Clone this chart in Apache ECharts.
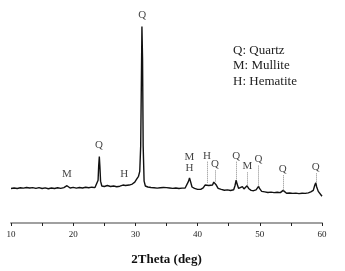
<!DOCTYPE html>
<html><head><meta charset="utf-8">
<script src="https://cdn.jsdelivr.net/npm/echarts@6/dist/echarts.min.js"></script>
<style>html,body{margin:0;padding:0;background:#fff}#c{width:345px;height:271px}</style>
</head><body><div id="c"></div>
<script>
// XRD pattern: 2Theta (deg) and intensity (arbitrary counts)
var twoTheta = [10.0,10.5,11.0,11.5,12.0,12.5,13.0,13.5,14.0,14.5,15.0,15.5,16.0,16.5,17.0,17.5,18.0,18.5,18.8,19.0,19.2,19.5,20.0,20.5,21.0,21.5,22.0,22.5,23.0,23.5,23.8,24.0,24.1,24.2,24.3,24.4,24.6,25.0,25.5,26.0,26.5,27.0,27.5,28.0,28.2,28.4,28.7,29.0,29.5,29.9,30.2,30.5,30.7,30.85,30.95,31.05,31.15,31.25,31.4,31.6,32.0,32.5,33.0,33.5,34.0,34.5,34.7,35.0,35.5,36.0,36.5,37.0,37.5,38.0,38.3,38.55,38.7,38.85,39.1,39.5,40.0,40.5,40.9,41.2,41.5,41.8,42.1,42.4,42.6,42.8,43.0,43.3,43.8,44.3,44.8,45.3,45.8,46.0,46.2,46.35,46.6,46.9,47.2,47.45,47.7,47.95,48.2,48.6,49.0,49.4,49.65,49.8,49.95,50.3,50.8,51.3,51.8,52.3,52.8,53.3,53.6,53.75,53.9,54.3,54.8,55.3,55.8,56.3,56.8,57.3,57.8,58.2,58.6,58.85,59.0,59.15,59.4,59.7,60.0];
var intensity = [355,360,355,362,358,365,360,364,356,363,354,361,352,360,354,362,356,364,375,383,372,360,366,358,365,360,367,362,368,364,370,440,590,683,570,430,380,375,385,375,380,372,378,390,407,385,382,390,400,420,450,480,530,790,1390,2020,1690,790,430,380,370,365,362,358,362,365,375,364,360,356,360,354,358,360,380,430,463,430,370,355,345,345,360,390,407,385,372,390,420,423,390,355,345,337,340,334,342,380,440,400,355,350,373,350,360,383,355,335,332,340,360,377,355,325,320,314,317,312,316,312,320,335,315,305,308,304,307,302,306,304,310,320,335,390,413,370,325,305,275];

// Phase labels: text, 2Theta, label height (counts)
var peakLabels = ['M','Q','H','Q','M','H','H','Q','Q','M','Q','Q','Q'];
var peakLabelX = [19.0,24.15,28.2,31.1,38.7,38.7,41.5,42.8,46.2,48.0,49.8,53.7,59.0];
var peakLabelY = [507,797,507,2140,680,563,690,600,690,580,657,557,573];

// Dotted guide lines: 2Theta, top (counts), bottom (counts)
var guideX = [41.5,42.8,46.2,48.0,49.8,53.7,59.0];
var guideTop = [630,540,630,520,590,490,510];
var guideBottom = [410,423,440,383,377,335,413];

var legendLines = ['Q: Quartz','M: Mullite','H: Hematite'];
var xTicks = {min:10, max:60, interval:10};

var serif = '"Liberation Serif","DejaVu Serif",serif';
var chart = echarts.init(document.getElementById('c'), null, {renderer:'canvas'});
var lineData = twoTheta.map(function(x,i){return [x,intensity[i]];});
var labelData = peakLabels.map(function(t,i){return [peakLabelX[i],peakLabelY[i],t];});
var guideData = guideX.map(function(x,i){return [{coord:[x,guideTop[i]]},{coord:[x,guideBottom[i]]}];});

chart.setOption({
  animation:false,
  grid:{left:11,right:23,top:5,bottom:42},
  xAxis:{
    type:'value', min:xTicks.min, max:xTicks.max, interval:xTicks.interval,
    name:'2Theta (deg)', nameLocation:'middle', nameGap:30,
    nameTextStyle:{fontFamily:serif,fontWeight:'bold',fontSize:13,color:'#111'},
    axisLine:{show:true,lineStyle:{color:'#a0a0a0',width:2}},
    axisTick:{show:true,length:3,lineStyle:{color:'#222',width:1}},
    minorTick:{show:true,splitNumber:2,length:3,lineStyle:{color:'#222',width:1}},
    axisLabel:{fontFamily:serif,fontSize:9,color:'#222',margin:7},
    splitLine:{show:false}
  },
  yAxis:{type:'value',min:0,max:2240,show:false,splitLine:{show:false}},
  series:[
    {type:'line',data:lineData,showSymbol:false,symbol:'none',
     lineStyle:{color:'#111',width:1.4},silent:true,z:3},
    {type:'scatter',data:labelData,symbolSize:0,silent:true,z:4,clip:false,
     label:{show:true,position:'inside',formatter:function(p){return p.data[2];},
       fontFamily:serif,fontSize:11,color:'#111'},
     markLine:{silent:true,symbol:['none','none'],label:{show:false},
       lineStyle:{color:'#888',type:'dotted',width:1},data:guideData}}
  ],
  graphic:legendLines.map(function(t,i){
    return {type:'text',left:233,top:44+i*15.5,
      style:{text:t,font:'13px '+serif,fill:'#222'}};
  })
});
</script></body></html>
